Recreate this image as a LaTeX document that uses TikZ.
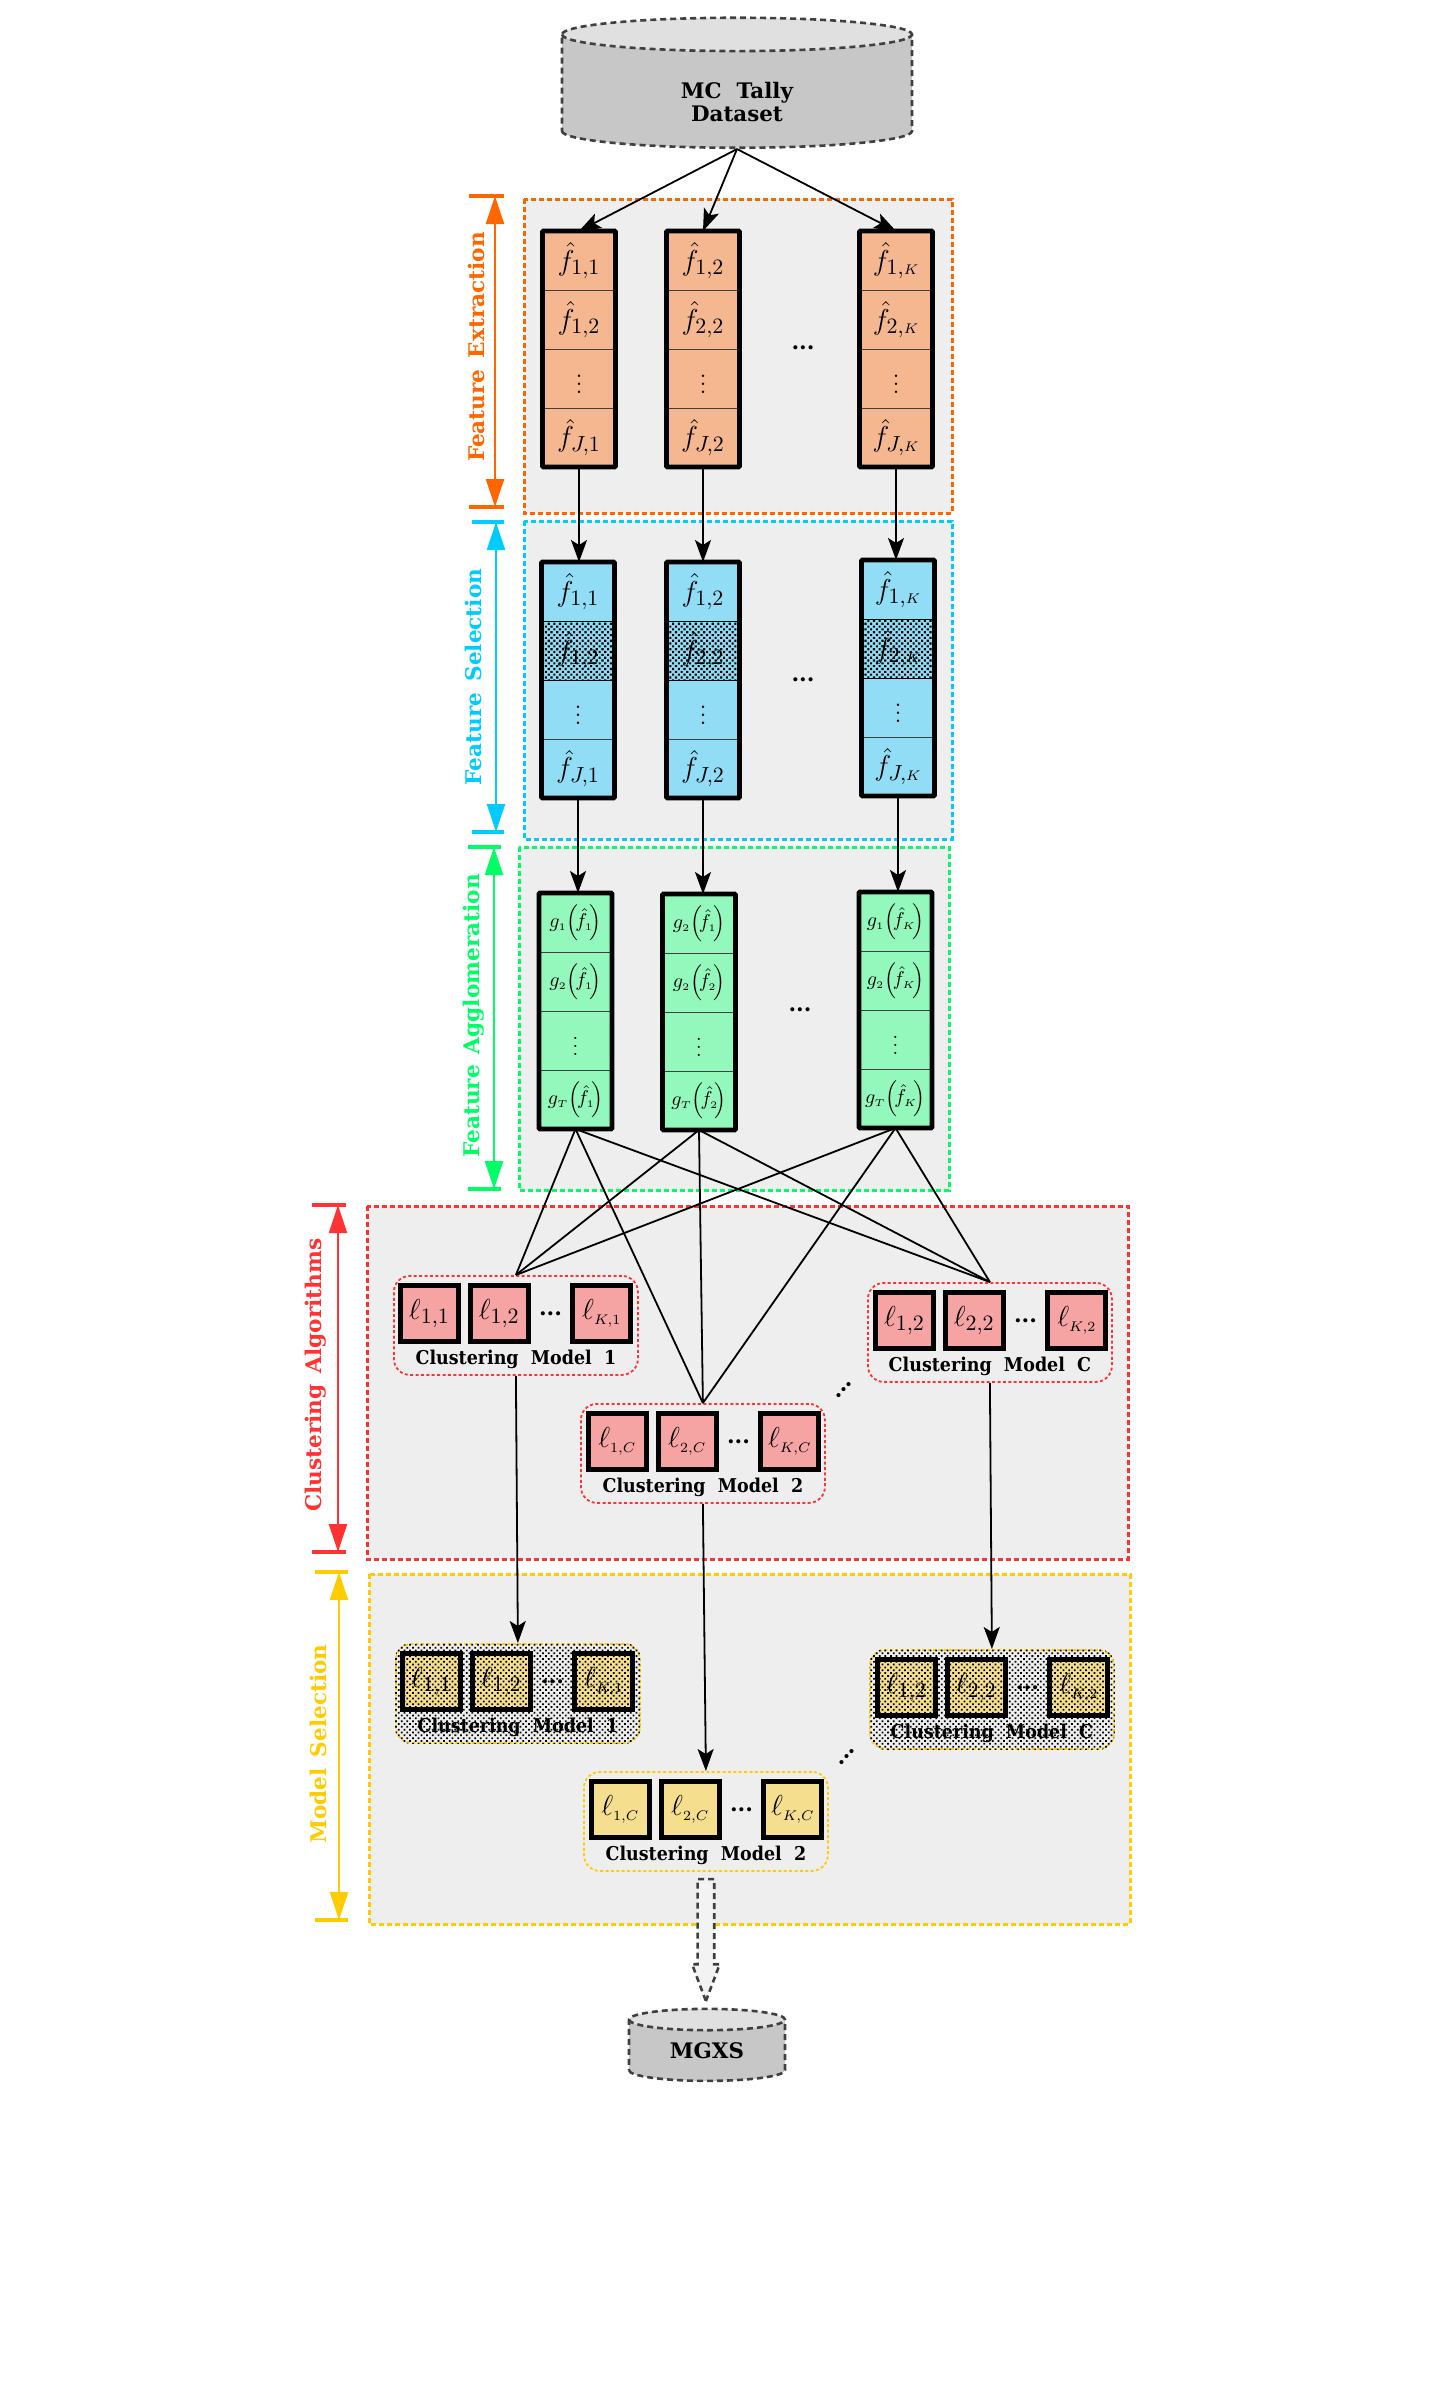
\documentclass[tikz,border=0pt]{standalone}
\usepackage[no-math]{fontspec}
\usepackage{amsmath}
\usepackage{amssymb}
\usepackage{xcolor}
\usepackage{tikz}
\usetikzlibrary{positioning,arrows.meta,shapes.geometric,shapes.arrows,patterns.meta}
\newfontfamily\labelfont{DejaVu Serif}
\newfontfamily\modelfont[FakeStretch=.92]{DejaVu Serif}
\definecolor{exorange}{HTML}{FF6600}
\definecolor{secyan}{HTML}{00CCFF}
\definecolor{aggreen}{HTML}{00FF66}
\definecolor{clred}{HTML}{FF3333}
\definecolor{msyellow}{HTML}{FFCC00}
\definecolor{framegray}{HTML}{EEEEEE}

\begin{document}
\begin{tikzpicture}[x=.5pt,y=-.5pt]
    \useasboundingbox (0,0) rectangle (1440,2400);
    \tikzstyle{frame}=[fill=framegray,line width=1.5pt,dash pattern=on 2.6pt off 1.4pt]
    \tikzstyle{cell}=[rectangle,minimum width=36.5pt,minimum height=29.5pt,inner sep=0pt,outer sep=0pt,draw=black!75,line width=.4pt,font=\fontsize{15}{17}\selectfont]
    \tikzstyle{excell}=[cell,fill={rgb,255:red,244;green,183;blue,143}]
    \tikzstyle{secell}=[cell,fill={rgb,255:red,144;green,221;blue,245}]
    \tikzstyle{agcell}=[cell,fill={rgb,255:red,147;green,248;blue,187},font=\normalsize]
    \tikzstyle{stackline}=[line width=2.4pt,draw=black,rounded corners=.5pt]
    \tikzstyle{lbox}=[rectangle,draw=black,line width=2.4pt,minimum width=29pt,minimum height=28pt,inner sep=0pt,font=\fontsize{15}{17}\selectfont]
    \tikzstyle{clbox}=[lbox,fill={rgb,255:red,245;green,163;blue,163}]
    \tikzstyle{msbox}=[lbox,fill={rgb,255:red,245;green,223;blue,143}]
    \tikzstyle{model}=[rectangle,rounded corners=8pt,minimum width=122pt,minimum height=49.5pt,line width=.9pt,dash pattern=on 1.5pt off 1.2pt]
    \tikzstyle{modeltext}=[font=\modelfont\bfseries\fontsize{9.5}{11}\selectfont,inner sep=0pt]
    \tikzstyle{dotrow}=[font=\labelfont\bfseries\fontsize{11}{13}\selectfont,inner sep=0pt]
    \tikzstyle{gap}=[dotrow,minimum width=19.5pt]
    \tikzstyle{sidelabel}=[rotate=90,font=\labelfont\bfseries\fontsize{10.8}{12}\selectfont,inner sep=0pt]
    \tikzstyle{bracket}=[line width=1.2pt,{Triangle[length=14pt,width=9pt]}-{Triangle[length=14pt,width=9pt]}]
    \tikzstyle{bracketend}=[line width=1.7pt]
    \tikzstyle{link}=[line width=.9pt,-{Stealth[length=11pt,width=8pt,inset=2.5pt]}]
    \tikzstyle{cross}=[line width=.9pt]
    \tikzstyle{dimmed}=[pattern={Dots[distance=2pt,radius=.75pt,angle=45]},pattern color=black]
    \tikzstyle{dimmedlight}=[pattern={Dots[distance=2pt,radius=.62pt,angle=45]},pattern color=black]
    \tikzstyle{store}=[cylinder,shape border rotate=90,draw=black!75,line width=1.3pt,dash pattern=on 3pt off 2pt,cylinder uses custom fill,cylinder body fill=black!22,cylinder end fill=black!12]
    \tikzstyle{storetext}=[font=\labelfont\bfseries\fontsize{10.7}{12.5}\selectfont,inner sep=0pt,align=center]

    % frames
    \draw[frame,draw=exorange] (524,199) rectangle (952,513);
    \draw[frame,draw=secyan] (524,521) rectangle (952,839);
    \draw[frame,draw=aggreen] (519,847) rectangle (949,1190);
    \draw[frame,draw=clred] (367,1206) rectangle (1128,1559);
    \draw[frame,draw=msyellow] (369,1574) rectangle (1130,1924);

    % brackets
    \coordinate (exup) at (495,196); \coordinate (exdn) at (495,507);
    \coordinate (seup) at (496,522); \coordinate (sedn) at (496,832);
    \coordinate (agup) at (494,847); \coordinate (agdn) at (494,1189);
    \coordinate (clup) at (338,1205); \coordinate (cldn) at (338,1552);
    \coordinate (msup) at (339,1572); \coordinate (msdn) at (339,1920);
    \draw[bracket,exorange] (exup) -- (exdn);
    \draw[bracketend,exorange] ([xshift=-13pt]exup) -- ([xshift=4.5pt]exup);
    \draw[bracketend,exorange] ([xshift=-13pt]exdn) -- ([xshift=4.5pt]exdn);
    \draw[bracket,secyan] (seup) -- (sedn);
    \draw[bracketend,secyan] ([xshift=-12pt]seup) -- ([xshift=4pt]seup);
    \draw[bracketend,secyan] ([xshift=-12pt]sedn) -- ([xshift=4pt]sedn);
    \draw[bracket,aggreen] (agup) -- (agdn);
    \draw[bracketend,aggreen] ([xshift=-13pt]agup) -- ([xshift=3.5pt]agup);
    \draw[bracketend,aggreen] ([xshift=-13pt]agdn) -- ([xshift=3.5pt]agdn);
    \draw[bracket,clred] (clup) -- (cldn);
    \draw[bracketend,clred] ([xshift=-13pt]clup) -- ([xshift=4pt]clup);
    \draw[bracketend,clred] ([xshift=-13pt]cldn) -- ([xshift=4pt]cldn);
    \draw[bracket,msyellow] (msup) -- (msdn);
    \draw[bracketend,msyellow] ([xshift=-12pt]msup) -- ([xshift=4.5pt]msup);
    \draw[bracketend,msyellow] ([xshift=-12pt]msdn) -- ([xshift=4.5pt]msdn);
    \node[sidelabel,text=exorange](exlabel) at (476,347){Feature\ \,Extraction};
    \node[sidelabel,text=secyan](selabel) at (473,677){Feature\ \,Selection};
    \node[sidelabel,text=aggreen](aglabel) at (474,1016){Feature\ \,Agglomeration};
    \node[sidelabel,text=clred](cllabel) at (316,1375){Clustering\ \,Algorithms};
    \node[sidelabel,text=msyellow](mslabel) at (318,1744){Model\ \,Selection};

    % dataset
    \node[store,minimum width=175pt,minimum height=65pt,aspect=2.5](tally) at (737,94){};
    \node[storetext](tallytext) at (737,102){MC\ \ Tally\\[-1pt]Dataset};

    % extraction
    \node[excell,anchor=north](ex1a) at (579,231){$\hat{f}_{1,1}$};
    \node[excell,below=0pt of ex1a](ex1b){$\hat{f}_{1,2}$};
    \node[excell,below=0pt of ex1b](ex1c){$\vdots$};
    \node[excell,below=0pt of ex1c](ex1d){$\hat{f}_{J,1}$};
    \node[excell,anchor=north](ex2a) at (703,231){$\hat{f}_{1,2}$};
    \node[excell,below=0pt of ex2a](ex2b){$\hat{f}_{2,2}$};
    \node[excell,below=0pt of ex2b](ex2c){$\vdots$};
    \node[excell,below=0pt of ex2c](ex2d){$\hat{f}_{J,2}$};
    \node[excell,anchor=north](ex3a) at (896,231){$\hat{f}_{1,\scriptscriptstyle K}$};
    \node[excell,below=0pt of ex3a](ex3b){$\hat{f}_{2,\scriptscriptstyle K}$};
    \node[excell,below=0pt of ex3b](ex3c){$\vdots$};
    \node[excell,below=0pt of ex3c](ex3d){$\hat{f}_{J,\scriptscriptstyle K}$};
    \draw[stackline] (ex1a.north west) rectangle (ex1d.south east);
    \draw[stackline] (ex2a.north west) rectangle (ex2d.south east);
    \draw[stackline] (ex3a.north west) rectangle (ex3d.south east);
    \node[dotrow](exdots) at (803,348){...};

    % selection
    \node[secell,anchor=north](se1a) at (578,562){$\hat{f}_{1,1}$};
    \node[secell,below=0pt of se1a](se1b){$\hat{f}_{1,2}$};
    \node[secell,below=0pt of se1b](se1c){$\vdots$};
    \node[secell,below=0pt of se1c](se1d){$\hat{f}_{J,1}$};
    \node[secell,anchor=north](se2a) at (703,562){$\hat{f}_{1,2}$};
    \node[secell,below=0pt of se2a](se2b){$\hat{f}_{2,2}$};
    \node[secell,below=0pt of se2b](se2c){$\vdots$};
    \node[secell,below=0pt of se2c](se2d){$\hat{f}_{J,2}$};
    \node[secell,anchor=north](se3a) at (898,560){$\hat{f}_{1,\scriptscriptstyle K}$};
    \node[secell,below=0pt of se3a](se3b){$\hat{f}_{2,\scriptscriptstyle K}$};
    \node[secell,below=0pt of se3b](se3c){$\vdots$};
    \node[secell,below=0pt of se3c](se3d){$\hat{f}_{J,\scriptscriptstyle K}$};
    \draw[stackline] (se1a.north west) rectangle (se1d.south east);
    \draw[stackline] (se2a.north west) rectangle (se2d.south east);
    \draw[stackline] (se3a.north west) rectangle (se3d.south east);
    \draw[dimmed] ([xshift=-1pt]se1b.north west) rectangle ([xshift=1pt]se1b.south east);
    \draw[dimmed] ([xshift=-1pt]se2b.north west) rectangle ([xshift=1pt]se2b.south east);
    \draw[dimmed] ([xshift=-1pt]se3b.north west) rectangle ([xshift=1pt]se3b.south east);
    \node[dotrow](sedots) at (803,680){...};

    % agglomeration
    \node[agcell,anchor=north](ag1a) at (575.5,893){$g_{\scriptscriptstyle 1}{\left(\!\hat{f}_{\scriptscriptstyle 1}\!\right)}$};
    \node[agcell,below=0pt of ag1a](ag1b){$g_{\scriptscriptstyle 2}{\left(\!\hat{f}_{\scriptscriptstyle 1}\!\right)}$};
    \node[agcell,below=0pt of ag1b](ag1c){$\vdots$};
    \node[agcell,below=0pt of ag1c](ag1d){$g_{\scriptscriptstyle T}{\left(\!\hat{f}_{\scriptscriptstyle 1}\!\right)}$};
    \node[agcell,anchor=north](ag2a) at (699,894){$g_{\scriptscriptstyle 2}{\left(\!\hat{f}_{\scriptscriptstyle 1}\!\right)}$};
    \node[agcell,below=0pt of ag2a](ag2b){$g_{\scriptscriptstyle 2}{\left(\!\hat{f}_{\scriptscriptstyle 2}\!\right)}$};
    \node[agcell,below=0pt of ag2b](ag2c){$\vdots$};
    \node[agcell,below=0pt of ag2c](ag2d){$g_{\scriptscriptstyle T}{\left(\!\hat{f}_{\scriptscriptstyle 2}\!\right)}$};
    \node[agcell,anchor=north](ag3a) at (895.5,892){$g_{\scriptscriptstyle 1}{\left(\!\hat{f}_{\scriptscriptstyle K}\!\right)}$};
    \node[agcell,below=0pt of ag3a](ag3b){$g_{\scriptscriptstyle 2}{\left(\!\hat{f}_{\scriptscriptstyle K}\!\right)}$};
    \node[agcell,below=0pt of ag3b](ag3c){$\vdots$};
    \node[agcell,below=0pt of ag3c](ag3d){$g_{\scriptscriptstyle T}{\left(\!\hat{f}_{\scriptscriptstyle K}\!\right)}$};
    \draw[stackline] (ag1a.north west) rectangle (ag1d.south east);
    \draw[stackline] (ag2a.north west) rectangle (ag2d.south east);
    \draw[stackline] (ag3a.north west) rectangle (ag3d.south east);
    \node[dotrow](agdots) at (800,1010){...};

    % clustering models
    \begin{scope}[shift={(393,1275)}]
    \node[model,draw=clred,anchor=north west](cl1) at (0,0){};
    \node[clbox,below right=4pt and 2.5pt of cl1.north west](cl1a){$\ell_{1,1}$};
    \node[clbox,right=3.5pt of cl1a](cl1b){$\ell_{1,2}$};
    \node[gap,right=0pt of cl1b](cl1dots){...};
    \node[clbox,right=0pt of cl1dots](cl1c){$\ell_{\scriptscriptstyle K,1}$};
    \node[modeltext] at ([yshift=8pt]cl1.south){Clustering\ \ Model\ \ 1};
    \end{scope}

    \begin{scope}[shift={(580,1403)}]
    \node[model,draw=clred,anchor=north west](cl2) at (0,0){};
    \node[clbox,below right=4pt and 3pt of cl2.north west](cl2a){$\ell_{\scriptscriptstyle 1,C}$};
    \node[clbox,right=3.5pt of cl2a](cl2b){$\ell_{\scriptscriptstyle 2,C}$};
    \node[gap,right=0pt of cl2b](cl2dots){...};
    \node[clbox,right=0pt of cl2dots](cl2c){$\ell_{\scriptscriptstyle K,C}$};
    \node[modeltext] at ([yshift=8pt]cl2.south){Clustering\ \ Model\ \ 2};
    \end{scope}

    \begin{scope}[shift={(867,1282)}]
    \node[model,draw=clred,anchor=north west](cl3) at (0,0){};
    \node[clbox,below right=4pt and 3pt of cl3.north west](cl3a){$\ell_{1,2}$};
    \node[clbox,right=3.5pt of cl3a](cl3b){$\ell_{2,2}$};
    \node[gap,right=0pt of cl3b](cl3dots){...};
    \node[clbox,right=0pt of cl3dots](cl3c){$\ell_{\scriptscriptstyle K,2}$};
    \node[modeltext] at ([yshift=8pt]cl3.south){Clustering\ \ Model\ \ C};
    \end{scope}
    \node[dotrow,rotate=45](cldots) at (844,1390){...};

    % selected models
    \begin{scope}[shift={(395,1643)}]
    \node[model,draw=msyellow,anchor=north west](ms1) at (0,0){};
    \node[msbox,below right=4pt and 2.5pt of ms1.north west](ms1a){$\ell_{1,1}$};
    \node[msbox,right=3.5pt of ms1a](ms1b){$\ell_{1,2}$};
    \node[gap,right=0pt of ms1b](ms1dots){...};
    \node[msbox,right=0pt of ms1dots](ms1c){$\ell_{\scriptscriptstyle K,1}$};
    \node[modeltext] at ([yshift=8pt]ms1.south){Clustering\ \ Model\ \ 1};
    \fill[dimmedlight,rounded corners=8pt] (ms1.north west) rectangle (ms1.south east);
    \end{scope}

    \begin{scope}[shift={(583,1771)}]
    \node[model,draw=msyellow,anchor=north west](ms2) at (0,0){};
    \node[msbox,below right=4pt and 3pt of ms2.north west](ms2a){$\ell_{\scriptscriptstyle 1,C}$};
    \node[msbox,right=3.5pt of ms2a](ms2b){$\ell_{\scriptscriptstyle 2,C}$};
    \node[gap,right=0pt of ms2b](ms2dots){...};
    \node[msbox,right=0pt of ms2dots](ms2c){$\ell_{\scriptscriptstyle K,C}$};
    \node[modeltext] at ([yshift=8pt]ms2.south){Clustering\ \ Model\ \ 2};
    \end{scope}

    \begin{scope}[shift={(869,1649)}]
    \node[model,draw=msyellow,anchor=north west](ms3) at (0,0){};
    \node[msbox,below right=4pt and 3pt of ms3.north west](ms3a){$\ell_{1,2}$};
    \node[msbox,right=3.5pt of ms3a](ms3b){$\ell_{2,2}$};
    \node[gap,right=0pt of ms3b](ms3dots){...};
    \node[msbox,right=0pt of ms3dots](ms3c){$\ell_{\scriptscriptstyle K,2}$};
    \node[modeltext] at ([yshift=8pt]ms3.south){Clustering\ \ Model\ \ C};
    \fill[dimmedlight,rounded corners=8pt] (ms3.north west) rectangle (ms3.south east);
    \end{scope}
    \node[dotrow,rotate=45](msdots) at (847,1757){...};

    % output
    \node[store,minimum width=78pt,minimum height=36pt,aspect=1.6](mgxs) at (707,2053){};
    \node[storetext](mgxstext) at (707,2051){MGXS};
    \node[single arrow,shape border rotate=270,draw=black!75,fill=framegray!70!white,line width=1.3pt,dash pattern=on 3pt off 2pt,minimum height=61pt,inner sep=3.5pt,single arrow head extend=2.75pt,single arrow tip angle=41,below=3pt of ms2](tomgxs){};

    % connections
    \draw[link] (tally.south) -- (ex1a.north);
    \draw[link] (tally.south) -- (ex2a.north);
    \draw[link] (tally.south) -- (ex3a.north);
    \draw[link] (ex1d.south) -- (ex1d.south |- se1a.north);
    \draw[link] (ex2d.south) -- (ex2d.south |- se2a.north);
    \draw[link] (ex3d.south) -- (ex3d.south |- se3a.north);
    \draw[link] (se1d.south) -- (se1d.south |- ag1a.north);
    \draw[link] (se2d.south) -- (se2d.south |- ag2a.north);
    \draw[link] (se3d.south) -- (se3d.south |- ag3a.north);
    \draw[cross] (ag1d.south) -- (cl1.north);
    \draw[cross] (ag1d.south) -- (cl2.north);
    \draw[cross] (ag1d.south) -- (cl3.north);
    \draw[cross] (ag2d.south) -- (cl1.north);
    \draw[cross] (ag2d.south) -- (cl2.north);
    \draw[cross] (ag2d.south) -- (cl3.north);
    \draw[cross] (ag3d.south) -- (cl1.north);
    \draw[cross] (ag3d.south) -- (cl2.north);
    \draw[cross] (ag3d.south) -- (cl3.north);
    \draw[link] (cl1.south) -- (ms1.north);
    \draw[link] (cl2.south) -- (ms2.north);
    \draw[link] (cl3.south) -- (ms3.north);
\end{tikzpicture}
\end{document}
